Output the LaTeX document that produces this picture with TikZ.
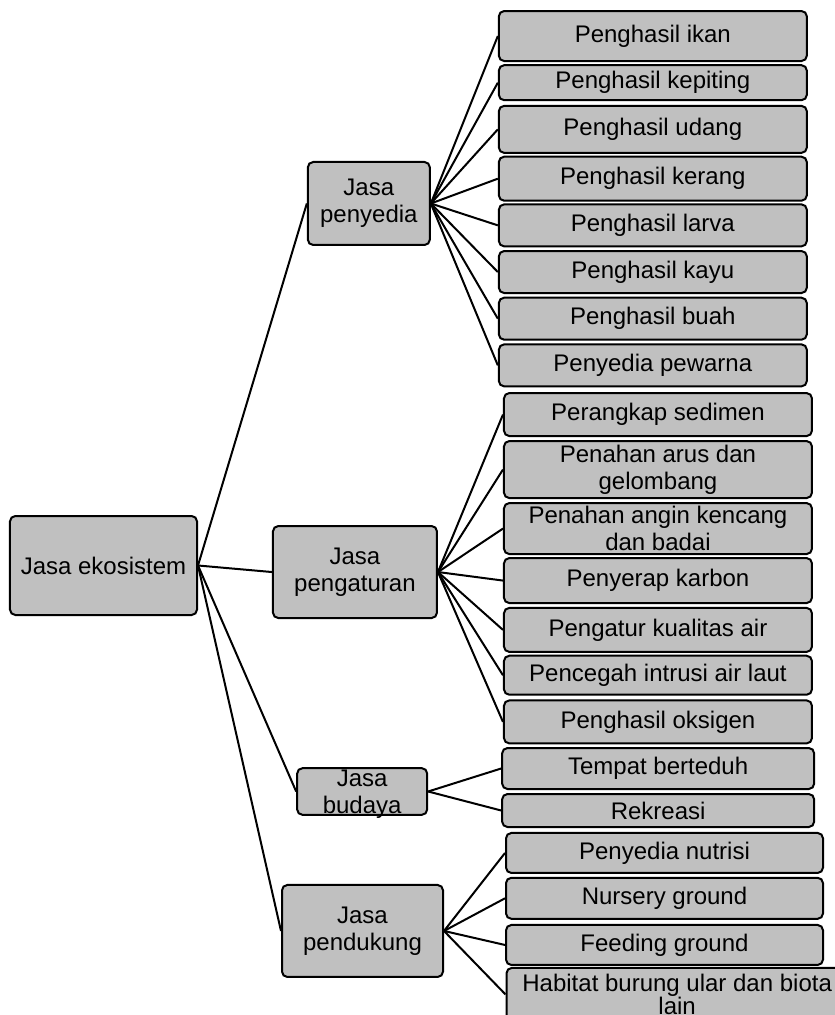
\documentclass[tikz,border=0pt]{standalone}
\usepackage{fontspec}
\setmainfont{Liberation Sans}
\usetikzlibrary{positioning}
\definecolor{boxgray}{RGB}{192,192,192}
\tikzstyle{root} = [rectangle, rounded corners=4pt, minimum width=140.25pt, minimum height=74.25pt, align=center, draw=black, line width=1.5pt, inner sep=1pt, fill=boxgray]
\tikzstyle{group} = [rectangle, rounded corners=4pt, minimum width=123pt, minimum height=69pt, align=center, draw=black, line width=1.5pt, inner sep=1pt, fill=boxgray]
\tikzstyle{leaf} = [rectangle, rounded corners=4pt, minimum width=231pt, minimum height=31.5pt, align=center, draw=black, line width=1.5pt, inner sep=1pt, fill=boxgray]
\tikzstyle{link} = [line width=1.5pt]

\begin{document}
\begin{tikzpicture}[node distance=35pt, font=\fontsize{18}{20}\selectfont]
\useasboundingbox (-77.625pt,-337.125pt) rectangle (548.625pt,424.125pt);
\clip (-77.625pt,-337.125pt) rectangle (548.625pt,424.125pt);
 \node (eko) [root] {Jasa ekosistem};
  \node (penyedia) [group,right of=eko,xshift=164pt,yshift=271.5pt,minimum width=91.5pt,minimum height=62.25pt] {Jasa\\penyedia};
  \node (pengaturan) [group,right of=eko,xshift=153.6pt,yshift=-4.9pt] {Jasa\\pengaturan};
  \node (budaya) [group,right of=eko,xshift=159pt,yshift=-169.5pt,minimum width=97.5pt,minimum height=32.25pt,text height=33pt,text depth=-5pt] {Jasa\\budaya};
  \node (pendukung) [group,right of=eko,xshift=159.25pt,yshift=-274.1pt,minimum width=120.75pt] {Jasa\\pendukung};
% jasa penyedia
\node (ikan) [leaf,right of=penyedia,xshift=178pt,yshift=125.6pt,minimum height=37.5pt] {Penghasil ikan};
\node (kepiting) [leaf,below of=ikan,minimum height=26.25pt] {Penghasil kepiting};
\node (udang) [leaf,below of=kepiting,minimum height=35.25pt] {Penghasil udang};
\node (kerang) [leaf,below of=udang,yshift=-2pt,minimum height=33pt] {Penghasil kerang};
\node (larva) [leaf,below of=kerang] {Penghasil larva};
\node (kayu) [leaf,below of=larva] {Penghasil kayu};
\node (buah) [leaf,below of=kayu] {Penghasil buah};
\node (pewarna) [leaf,below of=buah] {Penyedia pewarna};
% jasa pengaturan
\node (sedimen) [leaf,right of=pengaturan,xshift=192.25pt,yshift=118.1pt,minimum height=32.25pt] {Perangkap sedimen};
\node (arus) [leaf,below of=sedimen,yshift=-6.25pt,minimum height=42.75pt] {Penahan arus dan\\gelombang};
\node (angin) [leaf,below of=arus,yshift=-9.25pt,minimum height=38.25pt] {Penahan angin kencang\\dan badai};
\node (karbon) [leaf,below of=angin,yshift=-4pt,minimum height=33.75pt] {Penyerap karbon};
\node (kualitas) [leaf,below of=karbon,yshift=-2pt,minimum height=33pt] {Pengatur kualitas air};
\node (intrusi) [leaf,below of=kualitas,yshift=1pt,minimum height=29.25pt] {Pencegah intrusi air laut};
\node (oksigen) [leaf,below of=intrusi,minimum height=32.25pt] {Penghasil oksigen};
% jasa budaya
\node (berteduh) [leaf,right of=budaya,xshift=187pt,yshift=17.25pt,minimum width=234pt,minimum height=30.75pt] {Tempat berteduh};
\node (rekreasi) [leaf,below of=berteduh,yshift=3.5pt,minimum width=234pt,minimum height=24.75pt] {Rekreasi};
% jasa pendukung
\node (nutrisi) [leaf,right of=pendukung,xshift=191.5pt,yshift=58.5pt,minimum width=237.75pt,minimum height=30pt] {Penyedia nutrisi};
\node (nursery) [leaf,below of=nutrisi,yshift=1pt,minimum width=237.75pt,minimum height=30.75pt] {Nursery ground};
\node (feeding) [leaf,below of=nursery,minimum width=237.75pt,minimum height=30pt] {Feeding ground};
\node (habitat) [leaf,below of=feeding,xshift=9.5pt,yshift=-2.1pt,minimum width=256pt,minimum height=39.8pt] {Habitat burung ular dan biota\\[-3pt]lain};
\draw [link] (eko.east) -- (penyedia.west);
\draw [link] (eko.east) -- (pengaturan.west);
\draw [link] (eko.east) -- (budaya.west);
\draw [link] (eko.east) -- (pendukung.west);
\draw [link] (penyedia.east) -- (ikan.west);
\draw [link] (penyedia.east) -- (kepiting.west);
\draw [link] (penyedia.east) -- (udang.west);
\draw [link] (penyedia.east) -- (kerang.west);
\draw [link] (penyedia.east) -- (larva.west);
\draw [link] (penyedia.east) -- (kayu.west);
\draw [link] (penyedia.east) -- (buah.west);
\draw [link] (penyedia.east) -- (pewarna.west);
\draw [link] (pengaturan.east) -- (sedimen.west);
\draw [link] (pengaturan.east) -- (arus.west);
\draw [link] (pengaturan.east) -- (angin.west);
\draw [link] (pengaturan.east) -- (karbon.west);
\draw [link] (pengaturan.east) -- (kualitas.west);
\draw [link] (pengaturan.east) -- (intrusi.west);
\draw [link] (pengaturan.east) -- (oksigen.west);
\draw [link] (budaya.east) -- (berteduh.west);
\draw [link] (budaya.east) -- (rekreasi.west);
\draw [link] (pendukung.east) -- (nutrisi.west);
\draw [link] (pendukung.east) -- (nursery.west);
\draw [link] (pendukung.east) -- (feeding.west);
\draw [link] (pendukung.east) -- (habitat.west);
  \end{tikzpicture}
\end{document}
